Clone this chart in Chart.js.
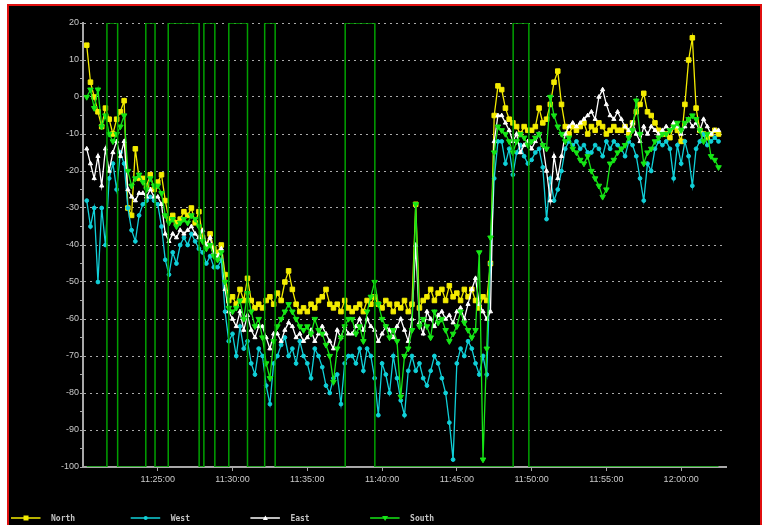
<!DOCTYPE html>
<html>
<head>
<meta charset="utf-8">
<script src="https://cdn.jsdelivr.net/npm/chart.js@4.4.0/dist/chart.umd.min.js"></script>
<style>
  html, body { margin: 0; padding: 0; background: #fff; width: 764px; height: 525px; overflow: hidden; }
  #frame { position: absolute; left: 7px; top: 4px; width: 751px; height: 530px; border: 2px solid #e01010; background: #000; }
  #chart { display: block; }
</style>
</head>
<body>
<div id="frame"><canvas id="chart" width="751" height="519"></canvas></div>
<script>
// samples every 15 s starting at 11:20:15, one row per minute
const sampleStart = '11:20:15';
const sampleStep = 15;

const north = [
  14, 4, 0,
  -4, -8, -3, -6,
  -10, -6, -4, -1,
  -30, -32, -14, -22,
  -22, -24, -21, -25,
  -23, -21, -28, -33,
  -32, -34, -33, -31,
  -32, -30, -34, -31,
  -38, -40, -37, -41,
  -42, -40, -48, -55,
  -54, -56, -52, -55,
  -49, -55, -57, -56,
  -57, -55, -54, -56,
  -53, -55, -50, -47,
  -52, -56, -58, -57,
  -58, -56, -57, -55,
  -54, -52, -56, -57,
  -56, -58, -55, -57,
  -58, -57, -56, -58,
  -55, -56, -54, -56,
  -57, -55, -56, -58,
  -56, -57, -55, -58,
  -56, -29, -57, -55,
  -54, -52, -55, -53,
  -52, -55, -51, -54,
  -53, -55, -52, -54,
  -52, -55, -57, -54,
  -55, -45, -5, 3,
  2, -3, -6, -7,
  -8, -10, -8, -9,
  -9, -8, -3, -7,
  -6, -2, 4, 7,
  -2, -8, -10, -8,
  -9, -8, -7, -10,
  -8, -9, -7, -8,
  -10, -9, -8, -9,
  -9, -8, -10, -7,
  -4, -2, 1, -4,
  -5, -7, -9, -10,
  -10, -11, -8, -9,
  -12, -2, 10, 16,
  -3, -9, -10, -11,
  -10, -9, -10
];

const west = [
  -28, -35, -30,
  -50, -30, -40, -22,
  -18, -25, -15, -18,
  -30, -36, -39, -32,
  -29, -28, -27, -28,
  -29, -35, -44, -48,
  -42, -45, -40, -38,
  -40, -37, -39, -41,
  -42, -45, -43, -46,
  -46, -44, -58, -66,
  -64, -70, -62, -68,
  -66, -72, -75, -68,
  -70, -78, -83, -72,
  -70, -67, -65, -70,
  -68, -72, -66, -70,
  -72, -76, -68, -70,
  -73, -78, -80, -76,
  -75, -83, -72, -70,
  -70, -72, -68, -74,
  -68, -70, -76, -86,
  -72, -75, -80, -70,
  -76, -82, -86, -74,
  -70, -74, -72, -76,
  -78, -74, -70, -72,
  -76, -80, -88, -98,
  -72, -68, -70, -66,
  -68, -72, -75, -70,
  -75, -45, -22, -12,
  -12, -18, -14, -21,
  -15, -13, -16, -18,
  -17, -15, -14, -19,
  -33, -22, -28, -25,
  -20, -14, -12, -13,
  -12, -14, -13, -15,
  -15, -13, -14, -16,
  -12, -14, -12, -13,
  -14, -16, -12, -13,
  -16, -22, -28, -18,
  -20, -14, -12, -13,
  -12, -14, -22, -13,
  -18, -12, -16, -24,
  -14, -12, -10, -13,
  -12, -11, -12
];

const east = [
  -14, -18, -22,
  -16, -24, -14, -20,
  -15, -12, -16, -12,
  -25, -27, -28, -26,
  -26, -27, -25, -27,
  -27, -29, -37, -39,
  -37, -38, -36, -37,
  -36, -35, -37, -38,
  -36, -40, -38, -42,
  -43, -41, -52, -58,
  -60, -62, -58, -63,
  -59, -63, -65, -62,
  -62, -65, -68, -64,
  -64, -66, -63, -61,
  -62, -65, -64, -66,
  -65, -63, -66, -64,
  -62, -64, -66, -68,
  -63, -65, -62, -64,
  -64, -62, -60, -63,
  -60, -62, -63, -66,
  -64, -62, -63, -65,
  -62, -60, -63, -66,
  -60, -40, -61, -64,
  -58, -60, -62, -59,
  -58, -60, -59, -61,
  -58, -57, -60, -56,
  -52, -49, -56, -58,
  -60, -58, -12, -5,
  -5, -7, -9, -12,
  -10, -15, -13, -12,
  -14, -12, -10, -13,
  -20, -28, -16, -22,
  -16, -10, -8, -7,
  -8, -7, -6, -5,
  -4, -6, 0, 2,
  -2, -5, -6, -4,
  -6, -8, -9, -7,
  -10, -12, -8, -10,
  -8, -9, -10, -9,
  -8, -9, -7, -8,
  -10, -8, -6, -8,
  -7, -9, -6, -8,
  -10, -9, -9
];

const south = [
  0, 2, -3,
  2, -8, -5, -10,
  -12, -10, -8, -5,
  -20, -24, -22, -21,
  -23, -25, -22, -24,
  -24, -26, -32, -34,
  -33, -35, -34, -33,
  -34, -32, -33, -35,
  -39, -41, -40, -43,
  -44, -42, -50, -57,
  -58, -57, -55, -60,
  -53, -58, -62, -60,
  -65, -72, -76, -66,
  -62, -60, -58, -56,
  -58, -60, -62, -63,
  -62, -64, -60, -63,
  -64, -67, -70, -77,
  -68, -65, -62, -60,
  -60, -64, -62, -66,
  -58, -54, -50, -56,
  -60, -62, -65, -63,
  -66, -81, -70, -68,
  -63, -29, -62, -60,
  -62, -65, -58, -61,
  -60, -63, -66, -64,
  -62, -58, -61, -63,
  -65, -63, -42, -98,
  -68, -38, -15, -8,
  -9, -10, -12, -15,
  -12, -10, -11, -13,
  -12, -11, -10, -13,
  -14, 0, -5, -8,
  -10, -12, -11, -14,
  -15, -17, -18, -16,
  -20, -22, -24, -27,
  -25, -18, -17, -15,
  -14, -13, -11, -9,
  -1, -10, -18, -15,
  -14, -12, -11, -10,
  -10, -9, -8, -7,
  -9, -7, -6, -5,
  -6, -9, -12, -10,
  -16, -17, -19
];

// on/off trace (square wave between -100 and 20)
const stateTimes = ['11:20:15', '11:21:36', '11:22:19', '11:24:12', '11:24:49', '11:25:42', '11:27:46', '11:28:05',
  '11:28:49', '11:29:45', '11:31:00', '11:32:09', '11:32:51', '11:37:32', '11:39:31', '11:48:46', '11:49:49', '12:02:30'];
const stateLevels = [-100, 20, -100, 20, -100, 20, -100, 20, -100, 20, -100, 20, -100, 20, -100, 20, -100, -100];

const xTickLabels = ['11:25:00', '11:30:00', '11:35:00', '11:40:00', '11:45:00', '11:50:00', '11:55:00', '12:00:00'];
const axisStart = '11:20:00';
const axisEnd = '12:03:00';

function toSec(t) {
  const p = t.split(':').map(Number);
  const b = axisStart.split(':').map(Number);
  return (p[0] * 3600 + p[1] * 60 + p[2]) - (b[0] * 3600 + b[1] * 60 + b[2]);
}

const firstSec = toSec(sampleStart);
const sampleSeconds = north.map((_, i) => firstSec + i * sampleStep);

const YELLOW = '#f4ec00';
const CYAN = '#10d0d8';
const WHITE = '#ffffff';
const GREEN = '#16e616';
const DARKGREEN = '#00a000';

function series(label, values, color, pointStyle, radius, rotation) {
  return {
    label,
    data: values.map((v, i) => ({ x: sampleSeconds[i], y: v })),
    borderColor: color,
    backgroundColor: color,
    borderWidth: 1.3,
    pointStyle,
    pointRadius: radius,
    pointRotation: rotation || 0,
    pointBorderWidth: 1,
    tension: 0
  };
}

const legendItems = [
  { label: 'North', color: YELLOW, style: 'rect' },
  { label: 'West', color: CYAN, style: 'circle' },
  { label: 'East', color: WHITE, style: 'triangle' },
  { label: 'South', color: GREEN, style: 'down' }
];

const bottomLegend = {
  id: 'bottomLegend',
  afterDraw(chart) {
    const ctx = chart.ctx;
    const y = 512;
    ctx.save();
    legendItems.forEach((item, i) => {
      const x0 = 2 + i * 119.7;
      ctx.strokeStyle = item.color;
      ctx.fillStyle = item.color;
      ctx.lineWidth = 1.5;
      ctx.beginPath();
      ctx.moveTo(x0, y);
      ctx.lineTo(x0 + 29.5, y);
      ctx.stroke();
      const cx = x0 + 15;
      ctx.beginPath();
      if (item.style === 'rect') {
        ctx.rect(cx - 2.5, y - 2.5, 5, 5);
      } else if (item.style === 'circle') {
        ctx.arc(cx, y, 2, 0, Math.PI * 2);
      } else if (item.style === 'triangle') {
        ctx.moveTo(cx, y - 2.5); ctx.lineTo(cx + 2.5, y + 2); ctx.lineTo(cx - 2.5, y + 2); ctx.closePath();
      } else {
        ctx.moveTo(cx - 3, y - 2); ctx.lineTo(cx + 3, y - 2); ctx.lineTo(cx, y + 3); ctx.closePath();
      }
      ctx.fill();
      ctx.fillStyle = '#c4c4c4';
      ctx.font = 'bold 8px "DejaVu Sans Mono", monospace';
      ctx.textBaseline = 'middle';
      ctx.fillText(item.label, x0 + 40, y + 0.5);
    });
    ctx.restore();
  }
};

Chart.defaults.font.family = '"Liberation Sans", Arial, sans-serif';

new Chart(document.getElementById('chart'), {
  type: 'line',
  data: {
    datasets: [
      {
        label: 'State',
        data: stateTimes.map((t, i) => ({ x: toSec(t), y: stateLevels[i] })),
        borderColor: DARKGREEN,
        borderWidth: 1.5,
        pointRadius: 0,
        stepped: true,
        fill: false
      },
      series('South', south, GREEN, 'triangle', 3.2, 180),
      series('East', east, WHITE, 'triangle', 2.4, 0),
      series('West', west, CYAN, 'circle', 1.9, 0),
      series('North', north, YELLOW, 'rect', 3.2, 0)
    ]
  },
  options: {
    responsive: false,
    animation: false,
    events: [],
    layout: { padding: { left: 0, top: 17, right: 34, bottom: 0 } },
    plugins: {
      legend: { display: false },
      tooltip: { enabled: false }
    },
    scales: {
      x: {
        type: 'linear',
        z: 1,
        min: toSec(axisStart),
        max: toSec(axisEnd),
        afterFit(scale) { scale.height = 58; },
        afterBuildTicks(scale) { scale.ticks = xTickLabels.map(t => ({ value: toSec(t) })); },
        grid: { drawOnChartArea: false, drawTicks: true, tickLength: 4, tickColor: '#a8a8a8', tickWidth: 1 },
        border: { color: '#a8a8a8', width: 2 },
        ticks: {
          autoSkip: false,
          maxRotation: 0,
          padding: 3,
          color: '#cacaca',
          font: { size: 9 },
          callback: (v) => xTickLabels.find(t => toSec(t) === v) || ''
        }
      },
      y: {
        min: -100,
        max: 20,
        afterFit(scale) { scale.width = 74; },
        grid: {
          color: (c) => (c.tick && c.tick.value % 10 === 0) ? 'rgba(200,200,200,0.85)' : 'rgba(0,0,0,0)',
          lineWidth: 1,
          drawTicks: true,
          tickLength: 3,
          tickColor: '#a8a8a8'
        },
        border: { color: '#a8a8a8', width: 2, dash: [2, 4] },
        ticks: {
          stepSize: 5,
          autoSkip: false,
          padding: 1,
          color: '#cacaca',
          font: { size: 9 },
          callback: (v) => (v % 10 === 0 ? String(v) : '')
        }
      }
    }
  },
  plugins: [bottomLegend]
});
</script>
</body>
</html>
